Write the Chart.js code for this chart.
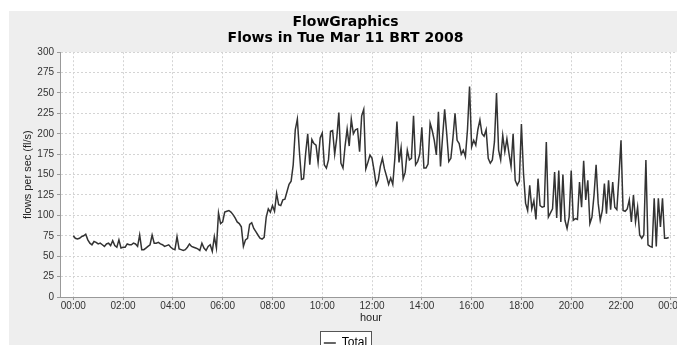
<!DOCTYPE html>
<html>
<head>
<meta charset="utf-8">
<script src="https://cdn.jsdelivr.net/npm/chart.js@4.4.1/dist/chart.umd.min.js"></script>
<style>
  html, body { margin: 0; padding: 0; background: #fff; overflow: hidden; width: 677px; height: 345px; }
  #panel { position: absolute; left: 9px; top: 11px; width: 681px; height: 348px; background: #eeeeee; }
</style>
</head>
<body>
<div id="panel"><canvas id="flowChart"></canvas></div>
<script>
"use strict";

// chart texts
const titleLines = ["FlowGraphics", "Flows in Tue Mar 11 BRT 2008"];
const seriesName = "Total";
const xTitle = "hour";
const yTitle = "flows per sec (fl/s)";

// x axis ticks (minutes since midnight) and their labels
const hourTicks = [0, 120, 240, 360, 480, 600, 720, 840, 960, 1080, 1200, 1320, 1440];
const hourLabels = ["00:00", "02:00", "04:00", "06:00", "08:00", "10:00", "12:00",
  "14:00", "16:00", "18:00", "20:00", "22:00", "00:00"];

// samples every 5 minutes, one array per hour
const stepMinutes = 5;
const flows00 = [75, 72, 71, 72, 74, 75, 77, 70, 66, 64, 68, 67];
const flows01 = [65, 66, 64, 62, 65, 66, 63, 69, 63, 61, 70, 60];
const flows02 = [61, 61, 65, 64, 64, 66, 65, 62, 76, 58, 58, 60];
const flows03 = [62, 64, 76, 66, 66, 67, 65, 64, 62, 63, 64, 61];
const flows04 = [59, 58, 74, 59, 58, 57, 58, 61, 65, 62, 61, 60];
const flows05 = [59, 57, 66, 60, 57, 62, 64, 56, 74, 60, 103, 90];
const flows06 = [92, 104, 105, 106, 104, 101, 97, 92, 90, 86, 62, 70];
const flows07 = [72, 89, 91, 84, 80, 76, 72, 71, 73, 98, 108, 104];
const flows08 = [112, 105, 127, 113, 112, 119, 120, 129, 138, 142, 162, 205];
const flows09 = [218, 178, 144, 145, 176, 200, 162, 193, 188, 186, 165, 195];
const flows10 = [201, 162, 158, 168, 203, 204, 175, 195, 226, 164, 158, 185];
const flows11 = [206, 185, 218, 200, 205, 206, 178, 222, 230, 157, 165, 174];
const flows12 = [170, 155, 137, 143, 160, 170, 157, 148, 138, 146, 138, 170];
const flows13 = [215, 165, 183, 145, 153, 180, 168, 170, 222, 162, 166, 175];
const flows14 = [208, 158, 158, 163, 213, 204, 192, 174, 227, 160, 196, 230];
const flows15 = [200, 166, 170, 195, 225, 192, 188, 175, 180, 172, 205, 258];
const flows16 = [184, 192, 186, 205, 217, 200, 197, 205, 170, 164, 168, 190];
const flows17 = [250, 180, 168, 198, 178, 194, 176, 160, 200, 143, 137, 142];
const flows18 = [212, 152, 115, 106, 137, 108, 118, 95, 145, 112, 110, 111];
const flows19 = [190, 98, 103, 108, 153, 97, 155, 92, 150, 94, 84, 98];
const flows20 = [155, 94, 96, 95, 141, 110, 167, 119, 143, 90, 98, 125];
const flows21 = [162, 115, 94, 106, 139, 102, 143, 107, 141, 110, 107, 147];
const flows22 = [192, 106, 105, 108, 119, 92, 125, 92, 110, 76, 72, 76];
const flows23 = [168, 64, 62, 61, 121, 62, 121, 86, 121, 72, 72, 73];

const flows = [].concat(flows00, flows01, flows02, flows03, flows04, flows05,
  flows06, flows07, flows08, flows09, flows10, flows11, flows12, flows13,
  flows14, flows15, flows16, flows17, flows18, flows19, flows20, flows21,
  flows22, flows23);

const points = flows.map((v, i) => ({ x: i * stepMinutes, y: v }));

// white plot background
const plotBackground = {
  id: "plotBackground",
  beforeDraw(chart) {
    const { ctx, chartArea } = chart;
    ctx.save();
    ctx.fillStyle = "#ffffff";
    ctx.fillRect(chartArea.left, chartArea.top, chartArea.right - chartArea.left, chartArea.bottom - chartArea.top);
    ctx.restore();
  },
};

// frame around the legend item
const legendFrame = {
  id: "legendFrame",
  beforeDraw(chart) {
    const box = chart.legend && chart.legend.legendHitBoxes[0];
    if (!box) return;
    const { ctx } = chart;
    ctx.save();
    ctx.fillStyle = "#ffffff";
    ctx.strokeStyle = "#555555";
    ctx.lineWidth = 1;
    const x = Math.round(box.left - 4) + 0.5;
    const y = Math.round(box.top - 6) + 0.5;
    const w = Math.round(box.width + 8);
    const h = 40;
    ctx.fillRect(x, y, w, h);
    ctx.strokeRect(x, y, w, h);
    ctx.restore();
  },
};

const gridStyle = {
  color: "#d4d4d4",
  tickColor: "#999999",
  tickBorderDash: [],
  tickLength: 3,
};

const borderStyle = {
  display: true,
  color: "#999999",
  width: 1,
  dash: [2, 2],
};

const ctx = document.getElementById("flowChart").getContext("2d");
new Chart(ctx, {
  type: "line",
  data: {
    datasets: [
      {
        label: seriesName,
        data: points,
        borderColor: "#333333",
        backgroundColor: "#333333",
        borderWidth: 1.5,
        pointRadius: 0,
        tension: 0,
        fill: false,
      },
    ],
  },
  options: {
    responsive: true,
    maintainAspectRatio: false,
    animation: false,
    layout: { padding: { left: 0, right: 8, top: 0, bottom: 0 } },
    plugins: {
      title: {
        display: true,
        text: titleLines,
        color: "#000000",
        font: { family: "DejaVu Sans", size: 14, weight: "bold", lineHeight: 1.15 },
        padding: { top: 3, bottom: 6 },
      },
      legend: {
        position: "bottom",
        labels: {
          color: "#000000",
          font: { family: "Liberation Sans", size: 12 },
          usePointStyle: true,
          pointStyle: "line",
          pointStyleWidth: 12,
          padding: 5,
        },
      },
      tooltip: { enabled: false },
    },
    scales: {
      x: {
        type: "linear",
        min: -32,
        max: 1467,
        afterBuildTicks: (scale) => {
          scale.ticks = hourTicks.map((v) => ({ value: v }));
        },
        afterFit: (scale) => {
          scale.height = 35;
        },
        ticks: {
          autoSkip: false,
          maxRotation: 0,
          padding: 0,
          color: "#333333",
          font: { family: "Liberation Sans", size: 10 },
          callback: (value) => hourLabels[hourTicks.indexOf(value)],
        },
        grid: gridStyle,
        border: borderStyle,
        title: {
          display: true,
          text: xTitle,
          color: "#222222",
          font: { family: "Liberation Sans", size: 11 },
          padding: { top: 0, bottom: 7 },
        },
      },
      y: {
        min: 0,
        max: 300,
        afterFit: (scale) => {
          scale.width = 51;
        },
        ticks: {
          stepSize: 25,
          padding: 3,
          color: "#333333",
          font: { family: "Liberation Sans", size: 10 },
        },
        grid: gridStyle,
        border: borderStyle,
        title: {
          display: true,
          text: yTitle,
          color: "#222222",
          font: { family: "Liberation Sans", size: 11 },
          padding: { top: 12, bottom: 0 },
        },
      },
    },
  },
  plugins: [plotBackground, legendFrame],
});
</script>
</body>
</html>
